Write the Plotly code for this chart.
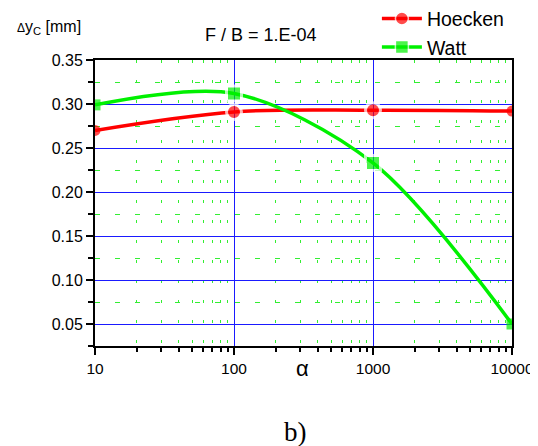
import plotly.graph_objects as go

alpha = [10, 100, 1000, 10000]
hoecken = [0.270, 0.291, 0.293, 0.292]
watt = [0.299, 0.312, 0.233, 0.050]

FONT = "Liberation Sans, Arial, sans-serif"

ring_w = [0, 3, 3, 0]
ring_s = [11, 15, 15, 11]

fig = go.Figure()
fig.add_trace(go.Scatter(
    x=alpha, y=hoecken, name="Hoecken", mode="lines+markers", legendgroup="h",
    line=dict(color="#ff0000", width=3.5, shape="spline", smoothing=1.0),
    marker=dict(symbol="circle", size=ring_s, color="#ff0000",
                line=dict(color="white", width=ring_w)),
))
fig.add_trace(go.Scatter(
    x=alpha, y=watt, name="Watt", mode="lines+markers", legendgroup="w",
    line=dict(color="#00f000", width=3.5, shape="spline", smoothing=0.9),
    marker=dict(symbol="square", size=ring_s, color="#00f000",
                line=dict(color="white", width=ring_w)),
))

fig.update_layout(
    width=538, height=446,
    margin=dict(l=87, r=34, t=52, b=108, autoexpand=False),
    paper_bgcolor="white", plot_bgcolor="white",
    font=dict(family=FONT, size=16, color="black"),
    showlegend=True,
    legend=dict(x=0.676, y=1.212, xanchor="left", yanchor="top",
                bgcolor="rgba(0,0,0,0)", font=dict(size=19.5, family=FONT),
                tracegroupgap=0, itemwidth=40),
)

fig.update_xaxes(
    type="log", range=[1, 4],
    tickmode="linear", tick0=0, dtick=1, tickformat=".0f",
    showline=True, linecolor="black", linewidth=2, mirror=True,
    ticks="outside", ticklen=7, tickwidth=2, tickcolor="black",
    showgrid=True, gridcolor="#1a1aff", gridwidth=1,
    minor=dict(dtick="D1", ticks="outside", ticklen=4, tickwidth=1.5, tickcolor="black",
               showgrid=True, gridcolor="#33ee33", gridwidth=1, griddash="3px,17px"),
    zeroline=False, layer="below traces", automargin=False,
    tickfont=dict(size=15.5, family=FONT),
)
fig.update_yaxes(
    range=[0.025, 0.35], tick0=0, dtick=0.05, tickformat=".2f",
    showline=True, linecolor="black", linewidth=2, mirror=True,
    ticks="outside", ticklen=7, tickwidth=2, tickcolor="black",
    showgrid=True, gridcolor="#1a1aff", gridwidth=1,
    minor=dict(dtick=0.025, ticks="outside", ticklen=5, tickwidth=1.5, tickcolor="black",
               showgrid=True, gridcolor="#33ee33", gridwidth=1, griddash="5px,15px"),
    zeroline=False, layer="below traces", automargin=False,
    tickfont=dict(size=16, family=FONT),
)

fig.add_annotation(
    text="F / B = 1.E-04", xref="paper", yref="paper", x=0.398, y=1.088,
    showarrow=False, font=dict(size=18, family=FONT), xanchor="center", yanchor="middle",
)
fig.add_annotation(
    text="<span style='font-size:12px'>Δ</span>y<sub>C</sub> [mm]",
    xref="paper", yref="paper", x=-0.192, y=1.112,
    showarrow=False, font=dict(size=16, family=FONT), xanchor="left", yanchor="middle",
)
fig.add_annotation(
    text="α", xref="paper", yref="paper", x=0.498, y=-0.08,
    showarrow=False, font=dict(size=22, family=FONT), xanchor="center", yanchor="middle",
)
fig.add_annotation(
    text="b)", xref="paper", yref="paper", x=0.482, y=-0.301,
    showarrow=False, font=dict(size=27, family="Liberation Serif, Times New Roman, serif"),
    xanchor="center", yanchor="middle",
)

fig.write_html("out.html")
